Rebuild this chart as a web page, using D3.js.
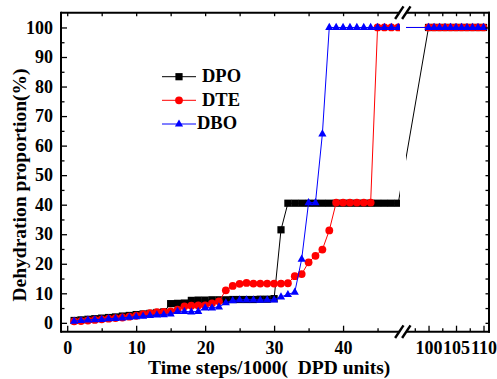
<!DOCTYPE html>
<html><head><meta charset="utf-8">
<script src="https://cdn.jsdelivr.net/npm/d3@7/dist/d3.min.js"></script>
<style>body{margin:0;background:#fff}</style>
</head><body><svg id="c" width="497" height="379"></svg>
<script>
// ---------- data ----------
const tLeft = d3.range(1, 49);        // time steps / 1000, before the axis break
const tRight = d3.range(100, 111);    // after the axis break
const dpoLeft = [0.8,1.0,1.2,1.4,1.6,1.8,2.0,2.3,2.5,2.8,3.0,3.2,3.5,3.7,6.5,6.6,6.7,7.6,7.7,7.7,
  7.8,7.8,7.8,7.9,7.9,7.9,7.9,8.0,8.0,8.2,31.5,40.5,40.5,40.5,40.5,40.5,40.5,40.5,40.5,40.5,
  40.5,40.5,40.5,40.5,40.5,40.5,40.5,40.5];
const dteLeft = [0.5,0.6,0.8,1.0,1.2,1.4,1.6,1.8,2.1,2.4,2.9,3.3,3.6,3.7,3.9,4.5,5.6,5.8,5.9,5.9,
  6.6,7.3,11.0,12.5,13.2,13.5,13.3,13.3,13.3,13.3,13.3,13.4,15.8,16.5,20.5,22.7,24.8,31.3,40.7,40.7,
  40.7,40.7,40.7,40.7,100,100,100,100];
const dboLeft = [0.6,0.8,1.0,1.1,1.2,1.4,1.5,1.7,1.9,2.1,2.3,2.5,2.7,2.8,3.0,3.9,3.9,3.7,3.9,5.1,
  5.1,5.4,6.8,7.5,7.8,7.8,7.8,7.7,7.8,7.8,8.8,9.6,10.4,21.6,40.7,40.7,64,100,100,100,
  100,100,100,100,100,100,100,100];
const dpoRight = [100,100,100,100,100,100,100,100,100,100,100];
const dteRight = [100,100,100,100,100,100,100,100,100,100,100];
const dboRight = [100,100,100,100,100,100,100,100,100,100,100];
const seriesNames = ["DPO","DTE","DBO"];
const yTicks = [0,10,20,30,40,50,60,70,80,90,100];
const yMinor = [5,15,25,35,45,55,65,75,85,95];
const xTicksLeft = [0,10,20,30,40];
const xMinorLeft = [5,15,25,35,45];
const xTicksRight = [100,105,110];
const xMinorRight = [97.5,102.5,107.5];
const xTitle = "Time steps/1000(  DPD units)";
const yTitle = "Dehydration proportion(%)";

// ---------- layout ----------
const FONT = "'Liberation Serif','Times New Roman',serif";
const X0 = 61, X1 = 489, Y0 = 12.7, Y1 = 331.7, BL = 400, BR = 406;
const svg = d3.select("#c");

const y = d3.scaleLinear().domain([-3, 105]).range([Y1, Y0]);
const xL = d3.scaleLinear().domain([-0.9, 48.4]).range([X0, 401]);
const xR = d3.scaleLinear().domain([95.9, 111]).range([BR, X1]);
const xAt = t => t < 70 ? xL(t) : xR(t);

const defs = svg.append("defs");
const cp = defs.append("clipPath").attr("id", "clip");
cp.append("rect").attr("x", X0).attr("y", Y0).attr("width", BL - X0).attr("height", Y1 - Y0);
cp.append("rect").attr("x", BR).attr("y", Y0).attr("width", X1 - BR).attr("height", Y1 - Y0);

// ---------- series ----------
const series = [
  {name: seriesNames[0], color: "#000000", shape: "square", left: dpoLeft, right: dpoRight},
  {name: seriesNames[1], color: "#ff0000", shape: "circle", left: dteLeft, right: dteRight},
  {name: seriesNames[2], color: "#0000ff", shape: "triangle", left: dboLeft, right: dboRight}
];

function drawMarker(g, shape, cx, cy, color) {
  if (shape === "square") {
    g.append("rect").attr("x", cx - 3.6).attr("y", cy - 3.6).attr("width", 7.2).attr("height", 7.2).attr("fill", color);
  } else if (shape === "circle") {
    g.append("circle").attr("cx", cx).attr("cy", cy).attr("r", 3.9).attr("fill", color);
  } else {
    g.append("path").attr("d", `M${cx},${cy - 4.6}L${cx + 4.1},${cy + 2.6}L${cx - 4.1},${cy + 2.6}Z`).attr("fill", color);
  }
}

const plot = svg.append("g").attr("clip-path", "url(#clip)");
const line = d3.line().x(d => xAt(d[0])).y(d => y(d[1]));
series.forEach(s => {
  const pts = tLeft.map((t, i) => [t, s.left[i]]).concat(tRight.map((t, i) => [t, s.right[i]]));
  const g = plot.append("g");
  g.append("path").attr("d", line(pts)).attr("fill", "none").attr("stroke", s.color).attr("stroke-width", 1);
  pts.forEach(p => drawMarker(g, s.shape, xAt(p[0]), y(p[1]), s.color));
});

// ---------- axes ----------
function styleAxis(g, fs) {
  g.attr("font-family", FONT).attr("font-size", fs).attr("font-weight", "bold");
  g.select(".domain").remove();
  g.selectAll(".tick line").attr("stroke", "#000").attr("stroke-width", 1.3);
  g.selectAll(".tick text").attr("fill", "#000");
}
// left
styleAxis(svg.append("g").attr("transform", `translate(${X0},0)`)
  .call(d3.axisLeft(y).tickValues(yTicks).tickSize(-6).tickPadding(8)), 18);
styleAxis(svg.append("g").attr("transform", `translate(${X0},0)`)
  .call(d3.axisLeft(y).tickValues(yMinor).tickSize(-3.5).tickFormat("")), 18);
// right
styleAxis(svg.append("g").attr("transform", `translate(${X1},0)`)
  .call(d3.axisRight(y).tickValues(yTicks.concat(yMinor)).tickSize(-3.5).tickFormat("")), 18);
// bottom
styleAxis(svg.append("g").attr("transform", `translate(0,${Y1})`)
  .call(d3.axisBottom(xL).tickValues(xTicksLeft).tickSize(-6).tickPadding(9.5)), 18);
styleAxis(svg.append("g").attr("transform", `translate(0,${Y1})`)
  .call(d3.axisBottom(xL).tickValues(xMinorLeft).tickSize(-3.5).tickFormat("")), 18);
styleAxis(svg.append("g").attr("transform", `translate(0,${Y1})`)
  .call(d3.axisBottom(xR).tickValues(xTicksRight).tickSize(-6).tickPadding(9.5)), 18);
styleAxis(svg.append("g").attr("transform", `translate(0,${Y1})`)
  .call(d3.axisBottom(xR).tickValues(xMinorRight).tickSize(-3.5).tickFormat("")), 18);
// top
styleAxis(svg.append("g").attr("transform", `translate(0,${Y0})`)
  .call(d3.axisTop(xL).tickValues(xTicksLeft.concat(xMinorLeft)).tickSize(-3.5).tickFormat("")), 18);
styleAxis(svg.append("g").attr("transform", `translate(0,${Y0})`)
  .call(d3.axisTop(xR).tickValues(xTicksRight.concat(xMinorRight)).tickSize(-3.5).tickFormat("")), 18);

// frame with break
const frame = svg.append("g").attr("stroke", "#000").attr("stroke-width", 2).attr("fill", "none");
frame.append("line").attr("x1", X0).attr("x2", X0).attr("y1", Y0 - 1).attr("y2", Y1 + 1);
frame.append("line").attr("x1", X1).attr("x2", X1).attr("y1", Y0 - 1).attr("y2", Y1 + 1);
[Y0, Y1].forEach(yy => {
  frame.append("line").attr("x1", X0).attr("x2", 399.5).attr("y1", yy).attr("y2", yy);
  frame.append("line").attr("x1", 406.5).attr("x2", X1 + 1).attr("y1", yy).attr("y2", yy);
  [399.3, 406.3].forEach(cx => {
    frame.append("line").attr("x1", cx - 4.2).attr("y1", yy + 6.3).attr("x2", cx + 4.2).attr("y2", yy - 6.3)
      .attr("stroke-width", 2.4);
  });
});

// titles
svg.append("text").attr("x", 148).attr("y", 373.5)
  .attr("font-family", FONT).attr("font-size", 19.5).attr("font-weight", "bold")
  .style("white-space", "pre").text(xTitle);
svg.append("text").attr("transform", "translate(25.5,185) rotate(-90)").attr("text-anchor", "middle")
  .attr("font-family", FONT).attr("font-size", 19.5).attr("font-weight", "bold").text(yTitle);

// legend
const legY = [76.7, 100.3, 124];
const legTextX = [202, 202, 197];
const legBase = [81.7, 106, 129.3];
series.forEach((s, i) => {
  const g = svg.append("g");
  g.append("line").attr("x1", 162).attr("x2", 196).attr("y1", legY[i]).attr("y2", legY[i])
    .attr("stroke", s.color).attr("stroke-width", 1);
  drawMarker(g, s.shape, 179, legY[i], s.color);
  g.append("text").attr("x", legTextX[i]).attr("y", legBase[i])
    .attr("font-family", FONT).attr("font-size", 18.5).attr("font-weight", "bold").text(s.name);
});
</script></body></html>
